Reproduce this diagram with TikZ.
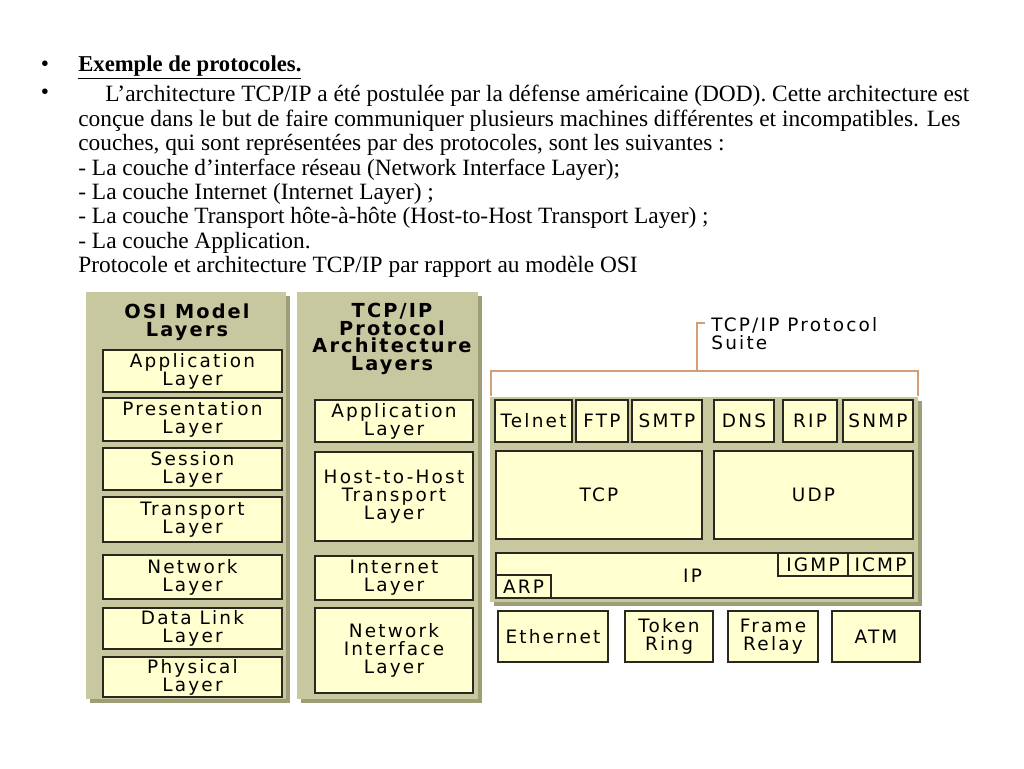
\documentclass[tikz,border=0pt]{standalone}
\usepackage{fontspec}
\setmainfont{Liberation Serif}
\newfontfamily\layerfont[LetterSpace=12]{DejaVu Sans}
\newfontfamily\headfont[LetterSpace=11]{DejaVu Sans}
\definecolor{panel}{RGB}{200,200,160}
\definecolor{panelshade}{RGB}{158,158,118}
\definecolor{cell}{RGB}{255,255,208}
\definecolor{cellline}{RGB}{40,40,30}
\definecolor{bracket}{RGB}{212,158,118}

\begin{document}
\begin{tikzpicture}[
  x=0.02cm, y=-0.02cm,
  layer/.style={rectangle, draw=cellline, fill=cell, line width=1.2pt,
    inner sep=0pt, align=center,
    font=\layerfont\fontsize{10.5}{10.2}\selectfont},
  osi/.style={layer, minimum width=3.58cm},
  arch/.style={layer, minimum width=3.16cm},
  row/.style={layer, minimum height=0.84cm},
  link/.style={layer, minimum height=1.02cm},
  head/.style={align=center, inner sep=0pt,
    font=\headfont\bfseries\fontsize{11}{10}\selectfont},
  panelbox/.style={fill=panel},
  shade/.style={fill=panelshade},
  brace/.style={draw=bracket, line width=1.2pt},
  body/.style={inner sep=0pt, font=\fontsize{13.3}{13.9}\selectfont}
]
  \useasboundingbox (0,0) rectangle (1024,768);

  % Text.
  \node[body, anchor=base] (bullet1) at (45,71) {•};
  \node[body, anchor=base west, font=\fontsize{12.9}{13.9}\selectfont] (title) at (78,71)
    {\textbf{\underline{Exemple de protocoles.}}};
  \node[body, anchor=base] (bullet2) at (45,99) {•};
  \node[body, anchor=north west, align=left] (para) at (78,85)
    {\hspace*{0.54cm}L’architecture TCP/IP a été postulée par la défense américaine (DOD). Cette architecture est\\
     conçue dans le but de faire communiquer plusieurs machines différentes et incompatibles. Les\\
     couches, qui sont représentées par des protocoles, sont les suivantes :\\
     - La couche d’interface réseau (Network Interface Layer);\\
     - La couche Internet (Internet Layer) ;\\
     - La couche Transport hôte-à-hôte (Host-to-Host Transport Layer) ;\\
     - La couche Application.\\
     Protocole et architecture TCP/IP par rapport au modèle OSI};

  % OSI column.
  \fill[shade] (90,296) rectangle (290,703);
  \fill[panelbox] (86,292) rectangle (286,699);
  \node[head] (osihead) at (187,322) {OSI Model\\Layers};
  \node[osi, minimum height=0.84cm] (osiapp) at (192.5,371) {Application\\Layer};
  \node[osi, minimum height=0.86cm] (osipres) at (192.5,419.5) {Presentation\\Layer};
  \node[osi, minimum height=0.84cm] (osisess) at (192.5,469) {Session\\Layer};
  \node[osi, minimum height=0.90cm] (ositrans) at (192.5,519.5) {Transport\\Layer};
  \node[osi, minimum height=0.88cm] (osinet) at (192.5,577) {Network\\Layer};
  \node[osi, minimum height=0.82cm] (osidl) at (192.5,628.5) {Data Link\\Layer};
  \node[osi, minimum height=0.80cm] (osiphys) at (192.5,677) {Physical\\Layer};

  % TCP/IP architecture column.
  \fill[shade] (301,296) rectangle (482,703);
  \fill[panelbox] (297,292) rectangle (478,699);
  \node[head] (archhead) at (392,339) {TCP/IP\\Protocol\\Architecture\\Layers};
  \node[arch, minimum height=0.84cm] (archapp) at (394,421) {Application\\Layer};
  \node[arch, minimum height=1.78cm] (archhost) at (394,496.5) {Host-to-Host\\Transport\\Layer};
  \node[arch, minimum height=0.88cm] (archinet) at (394,578) {Internet\\Layer};
  \node[arch, minimum height=1.70cm] (archnet) at (394,650.5) {Network\\Interface\\Layer};

  % Protocol suite.
  \coordinate (brl) at (491,396);
  \coordinate (brlt) at (491,371);
  \coordinate (brrt) at (918,371);
  \coordinate (brr) at (918,396);
  \coordinate (stem) at (697,371);
  \coordinate (tick) at (705,323);
  \draw[brace] (brl)--(brlt)--(brrt)--(brr);
  \draw[brace] (stem) |- (tick);
  \node[anchor=north west, align=left, inner sep=0pt,
    font=\layerfont\fontsize{10.5}{10.2}\selectfont] (suite) at (711,317)
    {TCP/IP Protocol\\Suite};

  \fill[shade] (494,401) rectangle (922,606);
  \fill[panelbox] (490,397) rectangle (918,602);
  \node[row, minimum width=1.54cm] (telnet) at (533.5,421) {Telnet};
  \node[row, minimum width=1.04cm] (ftp) at (602,421) {FTP};
  \node[row, minimum width=1.40cm] (smtp) at (667,421) {SMTP};
  \node[row, minimum width=1.20cm] (dns) at (744,421) {DNS};
  \node[row, minimum width=1.08cm] (rip) at (810,421) {RIP};
  \node[row, minimum width=1.40cm] (snmp) at (878,421) {SNMP};
  \node[layer, minimum width=4.12cm, minimum height=1.76cm] (tcp) at (599,495) {TCP};
  \node[layer, minimum width=3.98cm, minimum height=1.76cm] (udp) at (813.5,495) {UDP};
  \node[layer, minimum width=8.34cm, minimum height=0.90cm] (ip) at (704.5,575.5) {IP\hspace*{0.48cm}};
  \node[layer, minimum width=1.40cm, minimum height=0.46cm] (igmp) at (813,564.5) {IGMP};
  \node[layer, minimum width=1.30cm, minimum height=0.46cm] (icmp) at (880.5,564.5) {ICMP};
  \node[layer, minimum width=1.10cm, minimum height=0.46cm] (arp) at (523.5,586.5) {ARP};

  % Network interfaces.
  \node[link, minimum width=2.20cm] (ethernet) at (553,636.5) {Ethernet};
  \node[link, minimum width=1.76cm] (token) at (669,636.5) {Token\\Ring};
  \node[link, minimum width=1.80cm] (frame) at (773,636.5) {Frame\\Relay};
  \node[link, minimum width=1.76cm] (atm) at (876,636.5) {ATM};
\end{tikzpicture}
\end{document}
